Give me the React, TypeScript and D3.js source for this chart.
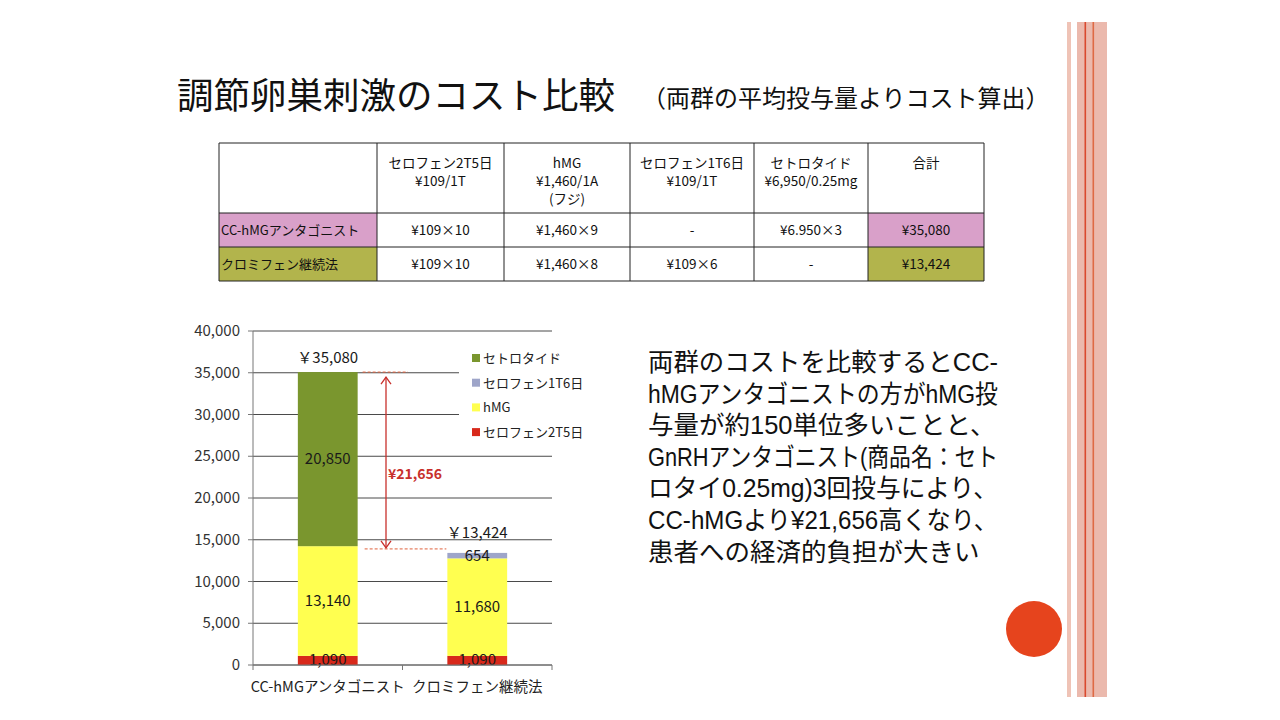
import { useEffect, useRef } from "react";
import * as d3 from "d3";

// Cost comparison of controlled ovarian stimulation (slide with table + stacked bar)

const FONT = "'Noto Sans CJK JP', 'Noto Sans', sans-serif";
const BODY_FONT = "'Liberation Sans', 'Noto Sans CJK JP', sans-serif";

const categories = ["CC-hMGアンタゴニスト", "クロミフェン継続法"];
const seriesKeys = ["セロフェン2T5日", "hMG", "セロフェン1T6日", "セトロタイド"];
const clomid2t5d = [1090, 1090];
const hmgCost = [13140, 11680];
const clomid1t6d = [0, 654];
const cetrotide = [20850, 0];
const totals = [35080, 13424];
const totalLabels = ["￥35,080", "￥13,424"];
const diffLabel = "¥21,656";
const yTicks = [0, 5000, 10000, 15000, 20000, 25000, 30000, 35000, 40000];

const tableHeader = [
  [],
  ["セロフェン2T5日", "¥109/1T"],
  ["hMG", "¥1,460/1A", "(フジ)"],
  ["セロフェン1T6日", "¥109/1T"],
  ["セトロタイド", "¥6,950/0.25mg"],
  ["合計"],
];
const tableRowA = ["CC-hMGアンタゴニスト", "¥109×10", "¥1,460×9", "-", "¥6.950×3", "¥35,080"];
const tableRowB = ["クロミフェン継続法", "¥109×10", "¥1,460×8", "¥109×6", "-", "¥13,424"];

const bodyLines = [
  "両群のコストを比較するとCC-",
  "hMGアンタゴニストの方がhMG投",
  "与量が約150単位多いことと、",
  "GnRHアンタゴニスト(商品名：セト",
  "ロタイ0.25mg)3回投与により、",
  "CC-hMGより¥21,656高くなり、",
  "患者への経済的負担が大きい",
];

const COLORS: Record<string, string> = {
  "セロフェン2T5日": "#d8291b",
  hMG: "#ffff50",
  "セロフェン1T6日": "#9ea5c9",
  "セトロタイド": "#7a962e",
};

// table layout
const COLS = [219, 377, 504, 630, 754, 868, 984];
const ROWS = [143, 213, 247, 281];

// chart layout
const PLOT = { left: 253, right: 552, top: 331, bottom: 665 };
const BODY_MAX_W = 350;

function Table() {
  const rows = [tableRowA, tableRowB];
  const fills = ["#d9a0c9", "#b2b44c"];
  return (
    <g fontFamily={FONT} fontSize={13} fill="#111">
      {rows.map((row, ri) =>
        row.map((cell, ci) => {
          const x0 = COLS[ci];
          const x1 = COLS[ci + 1];
          const y0 = ROWS[ri + 1];
          const y1 = ROWS[ri + 2];
          const fill = ci === 0 || ci === 5 ? fills[ri] : "#fff";
          return (
            <g key={`${ri}-${ci}`}>
              <rect x={x0} y={y0} width={x1 - x0} height={y1 - y0} fill={fill} />
              <text
                x={ci === 0 ? x0 + 2 : (x0 + x1) / 2}
                y={(y0 + y1) / 2 + 5}
                textAnchor={ci === 0 ? "start" : "middle"}
                fontSize={ci === 0 ? 13 : 13.5}
              >
                {cell}
              </text>
            </g>
          );
        })
      )}
      {tableHeader.map((lines, ci) =>
        lines.map((line, li) => (
          <text
            key={`h${ci}-${li}`}
            x={(COLS[ci] + COLS[ci + 1]) / 2}
            y={ROWS[0] + 25 + li * 18}
            textAnchor="middle"
            fontSize={13.5}
          >
            {line}
          </text>
        ))
      )}
      {COLS.map((x) => (
        <line key={`c${x}`} x1={x} x2={x} y1={ROWS[0]} y2={ROWS[3]} stroke="#222" strokeWidth={1} />
      ))}
      {ROWS.map((y) => (
        <line key={`r${y}`} x1={COLS[0]} x2={COLS[6]} y1={y} y2={y} stroke="#222" strokeWidth={1} />
      ))}
    </g>
  );
}

function Chart() {
  const y = d3.scaleLinear().domain([0, 40000]).range([PLOT.bottom, PLOT.top]);
  const x = d3
    .scaleBand<string>()
    .domain(categories)
    .range([PLOT.left, PLOT.right])
    .paddingInner(0.6)
    .paddingOuter(0.3);
  const bw = x.bandwidth();
  const step = x.step();

  const table = categories.map((c, i) => ({
    category: c,
    "セロフェン2T5日": clomid2t5d[i],
    hMG: hmgCost[i],
    "セロフェン1T6日": clomid1t6d[i],
    "セトロタイド": cetrotide[i],
  }));
  const stacked = d3.stack<any>().keys(seriesKeys)(table);

  const fmt = d3.format(",");
  const cx = (c: string) => (x(c) as number) + bw / 2;
  const boundaries = [PLOT.left, (x(categories[0]) as number) + bw + (step - bw) / 2, PLOT.right];

  const arrowX = 386;
  const yTop = y(totals[0]);
  const yBot = y(totals[1]);
  const red = "#c8302c";

  const legendItems = [...seriesKeys].reverse();

  return (
    <g fontFamily={FONT}>
      {/* gridlines */}
      {yTicks.map((t) => (
        <line key={t} x1={PLOT.left} x2={PLOT.right} y1={y(t)} y2={y(t)} stroke="#4a4a4a" strokeWidth={1} />
      ))}
      {/* legend background interrupts the grid */}
      <rect x={459} y={340} width={120} height={106} fill="#fff" />

      {/* bars */}
      {stacked.map((s) =>
        s.map((d, i) =>
          d[1] - d[0] > 0 ? (
            <rect
              key={`${s.key}-${i}`}
              x={x(categories[i])}
              y={y(d[1])}
              width={bw}
              height={y(d[0]) - y(d[1])}
              fill={COLORS[s.key]}
            />
          ) : null
        )
      )}

      {/* segment labels */}
      {stacked.map((s) =>
        s.map((d, i) =>
          d[1] - d[0] > 0 ? (
            <text
              key={`l${s.key}-${i}`}
              x={cx(categories[i])}
              y={y((d[0] + d[1]) / 2) + 5}
              textAnchor="middle"
              fontSize={15}
              fill="#1a1a1a"
            >
              {fmt(d[1] - d[0])}
            </text>
          ) : null
        )
      )}

      {/* totals */}
      {categories.map((c, i) => (
        <text key={`t${c}`} x={cx(c)} y={y(totals[i]) - (i === 0 ? 9 : 15)} textAnchor="middle" fontSize={15} fill="#1a1a1a">
          {totalLabels[i]}
        </text>
      ))}

      {/* y axis */}
      <line x1={PLOT.left} x2={PLOT.left} y1={PLOT.top} y2={PLOT.bottom} stroke="#777" />
      {yTicks.map((t) => (
        <g key={`yt${t}`}>
          <line x1={PLOT.left - 5} x2={PLOT.left} y1={y(t)} y2={y(t)} stroke="#777" />
          <text x={PLOT.left - 13} y={y(t) + 5} textAnchor="end" fontSize={15} fill="#333">
            {fmt(t)}
          </text>
        </g>
      ))}

      {/* x axis */}
      <line x1={PLOT.left} x2={PLOT.right} y1={PLOT.bottom} y2={PLOT.bottom} stroke="#777" />
      {boundaries.map((bx) => (
        <line key={`xt${bx}`} x1={bx} x2={bx} y1={PLOT.bottom} y2={PLOT.bottom + 5} stroke="#777" />
      ))}
      {categories.map((c) => (
        <text key={`xl${c}`} x={cx(c)} y={PLOT.bottom + 27} textAnchor="middle" fontSize={14.5} fill="#222">
          {c}
        </text>
      ))}

      {/* difference marker */}
      <line x1={(x(categories[0]) as number) + bw + 5} x2={408} y1={yTop} y2={yTop} stroke="#e0603c" strokeDasharray="3 2" />
      <line x1={(x(categories[0]) as number) + bw + 7} x2={(x(categories[1]) as number) - 1} y1={yBot - 4} y2={yBot - 4} stroke="#e0603c" strokeDasharray="3 2" />
      <line x1={arrowX} x2={arrowX} y1={yTop + 5} y2={yBot - 5} stroke={red} strokeWidth={1.3} />
      <path d={`M${arrowX - 5},${yTop + 12}L${arrowX},${yTop + 5}L${arrowX + 5},${yTop + 12}`} fill="none" stroke={red} strokeWidth={1.3} />
      <path d={`M${arrowX - 5},${yBot - 12}L${arrowX},${yBot - 5}L${arrowX + 5},${yBot - 12}`} fill="none" stroke={red} strokeWidth={1.3} />
      <text x={arrowX + 2} y={y((totals[0] + totals[1]) / 2) + 17} fontSize={14} fontWeight={600} fill={red}>
        {diffLabel}
      </text>

      {/* legend */}
      {legendItems.map((k, i) => (
        <g key={`lg${k}`} transform={`translate(472, ${358 + i * 24.7})`}>
          <rect x={0} y={-4} width={8} height={8} fill={COLORS[k]} />
          <text x={11} y={5} fontSize={13} fill="#222">
            {k}
          </text>
        </g>
      ))}
    </g>
  );
}

function Commentary() {
  const ref = useRef<SVGGElement>(null);
  useEffect(() => {
    if (!ref.current) return;
    // squeeze the lines that overflow the text box (the slide font is proportional)
    d3.select(ref.current)
      .selectAll<SVGTextElement, unknown>("text")
      .each(function () {
        const w = this.getComputedTextLength();
        if (w > BODY_MAX_W) {
          this.setAttribute("textLength", String(BODY_MAX_W));
          this.setAttribute("lengthAdjust", "spacingAndGlyphs");
        }
      });
  }, []);
  return (
    <g ref={ref} fontFamily={BODY_FONT} fontSize={25.5} fill="#111">
      {bodyLines.map((line, i) => (
        <text key={i} x={648} y={371 + i * 31.6}>
          {line}
        </text>
      ))}
    </g>
  );
}

export default function App() {
  return (
    <svg
      width={1280}
      height={720}
      viewBox="0 0 1280 720"
      style={{ position: "absolute", left: 0, top: 0, background: "#fff" }}
    >
      <rect width={1280} height={720} fill="#fff" />

      {/* decorative stripes */}
      <rect x={1067} y={22} width={4} height={675} fill="#efc3b6" />
      <rect x={1077} y={22} width={30} height={675} fill="#ebb9ad" />
      <rect x={1084.5} y={22} width={1.6} height={675} fill="#d9492e" />
      <rect x={1092.5} y={22} width={1.6} height={675} fill="#de6a45" />
      <circle cx={1034} cy={629} r={28} fill="#e6441d" />

      {/* title */}
      <text x={177} y={109} fontFamily={FONT} fontSize={36.5} fill="#111">
        調節卵巣刺激のコスト比較
      </text>
      <text x={642} y={107} fontFamily={FONT} fontSize={24} fill="#111">
        （両群の平均投与量よりコスト算出）
      </text>

      <Table />
      <Chart />
      <Commentary />
    </svg>
  );
}
